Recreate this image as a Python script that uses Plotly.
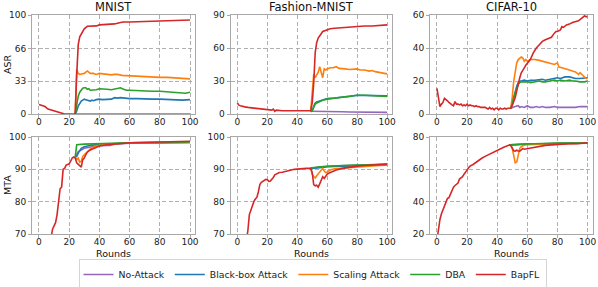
import plotly.graph_objects as go

# ---------------- data ----------------
series_names = ["No-Attack", "Black-box Attack", "Scaling Attack", "DBA", "BapFL"]
series_colors = ["#9467bd", "#1f77b4", "#ff7f0e", "#2ca02c", "#d62728"]
x_ticks = [0, 20, 40, 60, 80, 100]
titles = ["MNIST", "Fashion-MNIST", "CIFAR-10"]

# ---- MNIST ASR ----
mnist_asr_noattack_r = [24, 30, 40, 50, 60, 70, 80, 90, 100]
mnist_asr_noattack = [0, 0, 0, 0, 0, 0, 0, 0, 0]
mnist_asr_blackbox_r = [24, 25, 26, 27, 28, 29, 30, 31, 32, 33, 34, 35, 36, 38, 40, 42, 45, 48, 50, 52, 54, 56, 58, 60, 65, 70, 75, 80, 85, 90, 95, 100]
mnist_asr_blackbox = [0, 3, 8, 11, 13, 14, 15, 14.5, 14, 13.5, 13, 14, 13.5, 14.5, 15, 14.5, 15, 15, 16.5, 16, 16.5, 16, 15.5, 15.5, 15.5, 15, 15, 15, 14.5, 14.5, 14, 14.5]
mnist_asr_scaling_r = [24, 25, 26, 27, 28, 30, 32, 33, 34, 36, 38, 40, 42, 45, 48, 50, 52, 55, 60, 65, 70, 75, 80, 85, 90, 95, 98, 100]
mnist_asr_scaling = [0, 45, 41, 40, 40.5, 41, 43.5, 42, 41, 41, 40, 41, 40.5, 40, 39.5, 40, 40, 39, 38.5, 38, 37.5, 37.5, 37, 37, 36.5, 36, 35, 35.5]
mnist_asr_dba_r = [24, 25, 26, 27, 28, 29, 30, 31, 32, 33, 34, 36, 38, 40, 42, 45, 48, 50, 52, 54, 56, 58, 60, 65, 70, 75, 80, 85, 90, 95, 97, 100]
mnist_asr_dba = [0, 10, 18, 22, 24, 26, 26.5, 26.5, 25, 25.5, 24, 24, 24.5, 25.5, 25, 25, 24.5, 25, 25.5, 26.5, 25, 24, 24, 23.5, 23.5, 23, 23, 22.5, 22, 21.5, 21, 22]
mnist_asr_bapfl_r = [0, 2, 4, 6, 8, 10, 12, 14, 16, 17, 20, 24, 25, 26, 27, 28, 29, 30, 32, 34, 36, 38, 40, 45, 50, 54, 56, 60, 70, 80, 90, 100]
mnist_asr_bapfl = [9.7, 8.5, 7.5, 5, 4, 3.5, 2.5, 1.5, 0.5, 0, 0, 0, 40, 70, 78, 81, 84, 86, 88.6, 88.8, 88.8, 89, 90, 90.5, 91, 92.5, 93, 93, 93.5, 94, 94.5, 95]

# ---- Fashion-MNIST ASR ----
fmnist_asr_noattack_r = [49, 50, 55, 60, 65, 70, 75, 80, 85, 90, 95, 100]
fmnist_asr_noattack = [2.5, 2.5, 2.3, 2, 2, 2, 1.8, 1.8, 1.5, 1.5, 1.5, 1.5]
fmnist_asr_blackbox_r = [49, 50, 51, 52, 53, 55, 57, 60, 65, 70, 75, 80, 85, 90, 95, 100]
fmnist_asr_blackbox = [2.5, 3, 7, 10, 11, 12, 13, 14, 14.5, 15, 16, 17, 17, 16.5, 16.5, 16.5]
fmnist_asr_scaling_r = [49, 50, 51, 52, 53, 54, 55, 56, 57, 58, 59, 60, 62, 64, 66, 68, 70, 72, 75, 78, 80, 82, 85, 88, 90, 92, 95, 98, 100]
fmnist_asr_scaling = [3, 20, 36, 33, 35, 38, 43, 37, 33, 41, 40, 41, 42, 42, 43, 41.5, 41, 41, 40.5, 40.5, 41, 40, 40, 39, 39.5, 38.5, 38, 37.5, 36.5]
fmnist_asr_dba_r = [49, 50, 51, 52, 53, 55, 57, 60, 63, 66, 70, 75, 80, 85, 90, 95, 100]
fmnist_asr_dba = [2, 3, 6, 9, 10, 11.5, 12.5, 13.5, 14, 14.5, 15, 16, 17, 17, 16.5, 16.5, 16]
fmnist_asr_bapfl_r = [0, 1, 2, 3, 5, 7, 10, 12, 15, 18, 20, 22, 23, 24, 25, 26, 28, 30, 33, 35, 38, 40, 43, 45, 48, 49, 50, 51, 52, 53, 54, 55, 56, 57, 58, 60, 62, 65, 70, 75, 80, 85, 90, 95, 100]
fmnist_asr_bapfl = [10, 8, 7.5, 7, 6.5, 6, 5.5, 5, 4.5, 4, 4, 4, 3.5, 4.5, 2.5, 3.5, 3, 3, 3, 3, 2.5, 2.5, 2.5, 2.5, 2.5, 3, 10, 28, 56, 65, 69, 71.5, 73, 75, 75.5, 77, 77.5, 78, 78.5, 79, 79.8, 80, 80, 80.5, 81]

# ---- CIFAR-10 ASR ----
cifar_asr_noattack_r = [49, 50, 52, 54, 55, 56, 58, 60, 62, 64, 66, 68, 70, 72, 75, 78, 80, 82, 85, 88, 90, 92, 95, 98, 100]
cifar_asr_noattack = [3.5, 4, 4.5, 5, 4, 4.5, 4, 5, 4, 4, 4.5, 4, 4.5, 4, 4, 4.5, 4, 4, 4, 4, 4, 4, 4.5, 4.5, 4.5]
cifar_asr_blackbox_r = [49, 50, 51, 52, 53, 54, 55, 56, 58, 60, 62, 65, 68, 70, 72, 75, 78, 80, 82, 85, 88, 90, 92, 95, 98, 100]
cifar_asr_blackbox = [3.5, 6, 10, 14, 17, 19, 20, 20, 20.5, 20, 20.5, 20.5, 21, 21, 20.5, 21, 21.5, 22, 21.5, 22.5, 22.5, 22, 21.5, 21.5, 22, 22]
cifar_asr_scaling_r = [49, 50, 51, 52, 53, 54, 55, 56, 57, 58, 59, 60, 62, 65, 68, 70, 72, 75, 78, 80, 81, 83, 86, 88, 90, 92, 94, 95, 97, 99, 100]
cifar_asr_scaling = [3.5, 10, 20, 27, 31, 33, 34, 34.5, 34, 32, 33, 32, 33, 33, 32.5, 32, 31.5, 30.5, 30, 31, 28.5, 28, 27, 26.5, 26, 25.5, 24, 25, 23, 21.5, 21.5]
cifar_asr_dba_r = [49, 50, 51, 52, 53, 54, 55, 56, 58, 60, 62, 65, 68, 70, 72, 75, 78, 80, 82, 85, 88, 90, 92, 95, 98, 100]
cifar_asr_dba = [3.5, 6, 10, 13, 16, 18, 19, 19.5, 19.5, 19.5, 19, 19.5, 20, 19.5, 19.5, 20, 20.5, 20, 20.5, 20, 20.5, 20, 20, 19.5, 19.5, 20]
cifar_asr_bapfl_r = [0, 1, 2, 3, 4, 5, 6, 7, 8, 9, 10, 11, 12, 13, 14, 15, 16, 17, 18, 19, 20, 21, 22, 23, 24, 25, 26, 27, 28, 29, 30, 32, 33, 34, 35, 36, 37, 38, 39, 40, 41, 42, 43, 44, 45, 46, 47, 48, 49, 50, 51, 52, 53, 54, 55, 56, 57, 58, 59, 60, 62, 64, 65, 66, 68, 70, 72, 74, 76, 78, 79, 80, 82, 83, 84, 86, 88, 90, 92, 94, 96, 98, 99, 100]
cifar_asr_bapfl = [15.5, 10, 4.5, 6, 7, 9.5, 9, 8, 7, 6, 5.5, 5, 7.5, 6, 6, 5.5, 6, 5, 5.5, 5, 6, 5, 5.5, 5, 5, 4.5, 5, 4.5, 4.5, 4, 4, 4, 3.5, 3, 4, 3, 3.5, 2.5, 3.5, 3.5, 2.5, 3.5, 3, 3, 3.5, 3, 3.5, 3.5, 3.5, 5, 7, 10, 14, 19, 22, 25, 27, 28, 29.5, 30.5, 33, 37, 39, 40, 42, 44, 45, 46, 46.5, 49, 50, 50, 51, 53, 52.5, 54, 54.5, 55.5, 56, 56.5, 58, 59.5, 59, 59]

# ---- MNIST MTA ----
mnist_mta_noattack_r = [24, 25, 26, 28, 30, 35, 40, 47, 50, 60, 80, 100]
mnist_mta_noattack = [93.8, 94.5, 95.5, 96, 96.5, 97, 97.3, 97.4, 97.8, 98.1, 98.2, 98.2]
mnist_mta_blackbox_r = [24, 25, 26, 27, 28, 30, 32, 35, 40, 50, 60, 80, 100]
mnist_mta_blackbox = [93.8, 94, 95, 96, 96.5, 97, 97.2, 97.5, 97.7, 98, 98.2, 98.3, 98.4]
mnist_mta_scaling_r = [24, 25, 26, 27, 28, 29, 30, 32, 34, 36, 38, 40, 45, 50, 60, 80, 100]
mnist_mta_scaling = [93.8, 93, 93.5, 92.2, 92.5, 94, 94.5, 95.5, 96.3, 96.8, 97.2, 97.5, 97.8, 98, 98.2, 98.3, 98.4]
mnist_mta_dba_r = [24, 25, 30, 40, 50, 60, 80, 100]
mnist_mta_dba = [93.8, 97.6, 97.8, 98, 98.1, 98.2, 98.3, 98.5]
mnist_mta_bapfl_r = [7, 8, 9, 10, 11, 12, 13, 14, 15, 16, 17, 18, 19, 20, 21, 22, 23, 24, 25, 26, 27, 28, 29, 30, 31, 32, 34, 36, 38, 40, 45, 50, 55, 60, 70, 80, 90, 100]
mnist_mta_bapfl = [66, 69, 71.5, 72.5, 73.5, 76, 80, 84, 84.5, 90, 90.3, 91.3, 91.5, 91.7, 92.5, 93.5, 93.8, 93.5, 92, 91.5, 91, 90.7, 93, 93.5, 94.5, 95.3, 96, 96.4, 96.8, 97.2, 97.6, 97.9, 98, 98.2, 98.3, 98.4, 98.5, 98.7]

# ---- Fashion-MNIST MTA ----
fmnist_mta_noattack_r = [49, 50, 60, 70, 80, 90, 100]
fmnist_mta_noattack = [90.3, 90.4, 90.9, 91.1, 91.3, 91.5, 91.6]
fmnist_mta_blackbox_r = [49, 50, 55, 60, 70, 80, 90, 100]
fmnist_mta_blackbox = [90.3, 90.3, 90.5, 90.8, 91, 91.2, 91.3, 91.4]
fmnist_mta_scaling_r = [49, 50, 51, 52, 53, 54, 55, 56, 57, 58, 59, 60, 62, 65, 70, 75, 80, 85, 90, 95, 100]
fmnist_mta_scaling = [90.3, 88.5, 87.8, 87.3, 88, 88.5, 89.2, 89.8, 90.3, 89.5, 89, 89.2, 89.8, 90.2, 90.4, 90.5, 90.6, 90.8, 91, 91.2, 91.3]
fmnist_mta_dba_r = [49, 50, 55, 60, 65, 70, 80, 90, 100]
fmnist_mta_dba = [90.3, 90.5, 90.8, 91, 91.1, 91.2, 91.3, 91.4, 91.5]
fmnist_mta_bapfl_r = [5, 6, 7, 8, 9, 10, 11, 12, 13, 14, 15, 16, 17, 18, 19, 20, 21, 22, 23, 24, 25, 26, 27, 28, 30, 32, 34, 36, 38, 40, 43, 46, 49, 50, 51, 52, 53, 54, 55, 56, 57, 58, 59, 60, 61, 63, 66, 70, 75, 80, 85, 90, 95, 100]
fmnist_mta_bapfl = [65, 68, 71, 76, 77.5, 79, 80, 80.8, 81.3, 83, 85.3, 86, 86.4, 86.6, 86.9, 86.8, 86.3, 86.4, 86.8, 87.5, 88.3, 88.6, 88.8, 89, 89.1, 89.4, 89.6, 89.8, 90, 90.1, 90.2, 90.3, 90.3, 89, 85.3, 84.9, 85.1, 84.5, 85.5, 86.8, 87.7, 87.2, 88, 88.5, 88.8, 89.3, 89.8, 90.3, 90.7, 91, 91.2, 91.4, 91.5, 91.6]

# ---- CIFAR-10 MTA ----
cifar_mta_noattack_r = [48, 50, 60, 70, 80, 90, 100]
cifar_mta_noattack = [75, 75.2, 75.6, 75.8, 76, 76.1, 76.2]
cifar_mta_blackbox_r = [48, 50, 55, 60, 70, 80, 90, 100]
cifar_mta_blackbox = [75, 75.2, 75.4, 75.6, 75.9, 76, 76.1, 76.2]
cifar_mta_scaling_r = [48, 49, 50, 51, 52, 53, 54, 55, 56, 57, 58, 60, 65, 70, 80, 90, 100]
cifar_mta_scaling = [75, 75, 73, 68, 64, 64.5, 70, 73, 74, 74.5, 75, 75.3, 75.5, 75.7, 75.9, 76, 76.3]
cifar_mta_dba_r = [48, 50, 55, 60, 70, 80, 90, 100]
cifar_mta_dba = [75, 75.3, 75.5, 75.8, 76, 76.2, 76.3, 76.3]
cifar_mta_bapfl_r = [0, 1, 2, 3, 4, 5, 6, 7, 8, 9, 10, 11, 12, 13, 14, 15, 16, 17, 18, 19, 20, 21, 22, 24, 26, 28, 30, 32, 34, 36, 38, 40, 42, 44, 46, 48, 49, 50, 51, 52, 53, 54, 55, 56, 57, 58, 60, 62, 64, 66, 68, 70, 72, 74, 76, 78, 80, 83, 86, 90, 93, 96, 100]
cifar_mta_bapfl = [16, 24, 29, 32.5, 35, 36.5, 39, 42, 42.5, 45, 47.5, 49, 50, 51, 51.5, 54, 54.5, 55.5, 57, 58, 59.5, 61, 62, 63, 64.5, 65.5, 67, 68, 69, 70, 71, 71.8, 72.7, 73.5, 74.3, 75, 74.8, 73.3, 71.5, 71.3, 71.8, 71.3, 71.2, 72, 72.8, 72.4, 72.8, 73.2, 73.6, 73.8, 74.2, 74.4, 74.8, 75, 75.1, 75.3, 75.5, 75.8, 75.6, 76, 75.8, 76.2, 76.4]

asr_ranges = [[0, 100], [0, 90], [0, 60]]
asr_ticks = [[0, 33, 66, 100], [0, 30, 60, 90], [0, 20, 40, 60]]
mta_ranges = [[70, 100], [70, 100], [20, 80]]
mta_ticks = [[70, 80, 90, 100], [70, 80, 90, 100], [20, 40, 60, 80]]

panels = [
    [(mnist_asr_noattack_r, mnist_asr_noattack), (mnist_asr_blackbox_r, mnist_asr_blackbox),
     (mnist_asr_scaling_r, mnist_asr_scaling), (mnist_asr_dba_r, mnist_asr_dba), (mnist_asr_bapfl_r, mnist_asr_bapfl)],
    [(fmnist_asr_noattack_r, fmnist_asr_noattack), (fmnist_asr_blackbox_r, fmnist_asr_blackbox),
     (fmnist_asr_scaling_r, fmnist_asr_scaling), (fmnist_asr_dba_r, fmnist_asr_dba), (fmnist_asr_bapfl_r, fmnist_asr_bapfl)],
    [(cifar_asr_noattack_r, cifar_asr_noattack), (cifar_asr_blackbox_r, cifar_asr_blackbox),
     (cifar_asr_scaling_r, cifar_asr_scaling), (cifar_asr_dba_r, cifar_asr_dba), (cifar_asr_bapfl_r, cifar_asr_bapfl)],
    [(mnist_mta_noattack_r, mnist_mta_noattack), (mnist_mta_blackbox_r, mnist_mta_blackbox),
     (mnist_mta_scaling_r, mnist_mta_scaling), (mnist_mta_dba_r, mnist_mta_dba), (mnist_mta_bapfl_r, mnist_mta_bapfl)],
    [(fmnist_mta_noattack_r, fmnist_mta_noattack), (fmnist_mta_blackbox_r, fmnist_mta_blackbox),
     (fmnist_mta_scaling_r, fmnist_mta_scaling), (fmnist_mta_dba_r, fmnist_mta_dba), (fmnist_mta_bapfl_r, fmnist_mta_bapfl)],
    [(cifar_mta_noattack_r, cifar_mta_noattack), (cifar_mta_blackbox_r, cifar_mta_blackbox),
     (cifar_mta_scaling_r, cifar_mta_scaling), (cifar_mta_dba_r, cifar_mta_dba), (cifar_mta_bapfl_r, cifar_mta_bapfl)],
]

# ---------------- layout ----------------
W, H = 598, 287
FONT = "DejaVu Sans"
col_px = [(32, 195), (230.5, 392), (430, 592.5)]
row_px = [(15, 114), (137, 234)]  # top, bottom pixel rows
x_range = [-4.6, 103.3]
grid_c = "#b0b0b0"
spine_c = "#a8a8a8"

fig = go.Figure()
layout = dict(
    width=W, height=H, margin=dict(l=0, r=0, t=0, b=0, autoexpand=False),
    paper_bgcolor="white", plot_bgcolor="white",
    font=dict(family=FONT, size=9, color="#222222"),
    showlegend=True,
)

for p in range(6):
    row, col = divmod(p, 3)
    n = p + 1
    xa = "x" if n == 1 else f"x{n}"
    ya = "y" if n == 1 else f"y{n}"
    for s, (rx, vy) in enumerate(panels[p]):
        fig.add_trace(go.Scatter(
            x=rx, y=vy, mode="lines", name=series_names[s],
            line=dict(color=series_colors[s], width=1.6),
            legendgroup=series_names[s], showlegend=(p == 0),
            xaxis=xa, yaxis=ya, hoverinfo="skip",
        ))
    x0, x1 = col_px[col]
    yt, yb = row_px[row]
    common = dict(
        showgrid=True, gridcolor=grid_c, gridwidth=1, griddash="4px,2.5px",
        showline=True, mirror=True, linecolor=spine_c, linewidth=1,
        ticks="outside", ticklen=3, tickcolor=spine_c, zeroline=False,
        tickfont=dict(family=FONT, size=9, color="#222222"),
    )
    layout["xaxis" if n == 1 else f"xaxis{n}"] = dict(
        common, domain=[x0 / W, x1 / W], range=x_range, tickvals=x_ticks,
        anchor=ya, ticklabelstandoff=-4,
    )
    yr = asr_ranges[col] if row == 0 else mta_ranges[col]
    ytk = asr_ticks[col] if row == 0 else mta_ticks[col]
    layout["yaxis" if n == 1 else f"yaxis{n}"] = dict(
        common, domain=[1 - yb / H, 1 - yt / H], range=yr, tickvals=ytk,
        anchor=xa,
    )

annotations = []
for c, t in enumerate(titles):
    x0, x1 = col_px[c]
    annotations.append(dict(text=t, x=(x0 + x1) / 2 / W, y=1 - 7 / H, xref="paper", yref="paper",
                            showarrow=False, xanchor="center", yanchor="middle",
                            font=dict(family=FONT, size=11.5, color="#111111")))
    annotations.append(dict(text="Rounds", x=(x0 + x1) / 2 / W, y=1 - 253 / H, xref="paper", yref="paper",
                            showarrow=False, xanchor="center", yanchor="middle",
                            font=dict(family=FONT, size=9.5, color="#111111")))
for r, lab in enumerate(["ASR", "MTA"]):
    yt, yb = row_px[r]
    annotations.append(dict(text=lab, x=7.5 / W, y=1 - (yt + yb) / 2 / H, xref="paper", yref="paper",
                            showarrow=False, xanchor="center", yanchor="middle", textangle=-90,
                            font=dict(family=FONT, size=9.5, color="#111111")))
layout["annotations"] = annotations
layout["legend"] = dict(
    orientation="h", x=312.5 / W, y=1 - 274.5 / H, xanchor="center", yanchor="middle",
    bordercolor="#d5d5d5", borderwidth=1, bgcolor="white",
    font=dict(family=FONT, size=9.3, color="#222222"), itemwidth=30,
    tracegroupgap=0,
)
fig.update_layout(**layout)
fig.write_html("out.html", config={"displayModeBar": False, "staticPlot": True},
               post_script="document.body.style.margin='0px';document.body.style.padding='0px';")
